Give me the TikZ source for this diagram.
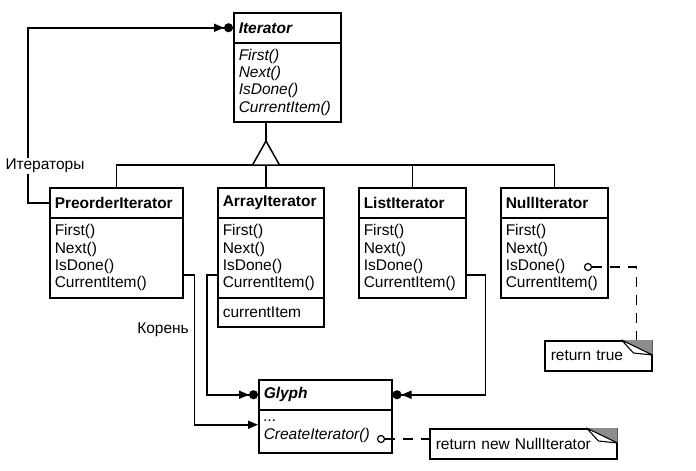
\documentclass[tikz,border=0pt]{standalone}
\usepackage{fontspec}
\setmainfont{Liberation Sans}
\usetikzlibrary{arrows.meta}
\tikzset{>={Triangle[width=8pt,length=10pt]}}
\tikzset{
  wire/.style={line width=1.5pt},
  cls/.style={draw, wire, anchor=north west, inner xsep=5pt, inner ysep=0pt,
    text width=#1, align=left},
  hdr/.style={cls=#1, minimum height=30pt, font=\bfseries},
  ops/.style={cls=#1},
  notebox/.style={draw, wire, anchor=north west, inner xsep=6pt, inner ysep=0pt,
    text width=#1, align=left, minimum height=30pt},
  lbl/.style={inner sep=1pt},
  refarrow/.style={wire, -{Triangle[width=8pt,length=10pt] Circle[length=9pt]}},
  dotopen/.style={circle, draw, line width=1.2pt, fill=white, inner sep=0pt, minimum size=7pt},
  notelink/.style={wire, dash pattern=on 10pt off 8pt}
}
\newcommand\dogear[1]{%
  \fill[black!45] ([xshift=-31pt]#1.north east) -- (#1.north east)
    -- ([yshift=-15pt]#1.north east) -- cycle;
  \filldraw[fill=white, line width=1.1pt, line join=round] ([xshift=-31pt]#1.north east)
    -- ([xshift=-19pt,yshift=-13pt]#1.north east) -- ([yshift=-15pt]#1.north east) -- cycle;
}

\begin{document}
\fontsize{15.5}{17.3}\selectfont
\begin{tikzpicture}[x=1pt,y=-1pt]
\useasboundingbox (0,0) rectangle (696,471);

% classes
\node[hdr=97pt, font=\bfseries\itshape] (it) at (233,12) {Iterator};
\node[ops=97pt, minimum height=79pt, font=\itshape] (itm) at (233,42)
  {First()\\Next()\\IsDone()\\CurrentItem()};

\node[hdr=123pt] (pre) at (49,187) {PreorderIterator};
\node[ops=123pt, minimum height=80pt] (prem) at (49,217)
  {First()\\Next()\\IsDone()\\CurrentItem()};

\node[hdr=96pt] (arr) at (217,187) {ArrayIterator};
\node[ops=96pt, minimum height=80pt] (arrm) at (217,217)
  {First()\\Next()\\IsDone()\\CurrentItem()};
\node[ops=96pt, minimum height=29pt] (arra) at (217,297) {currentItem};

\node[hdr=97pt] (lst) at (358,187) {ListIterator};
\node[ops=97pt, minimum height=80pt] (lstm) at (358,217)
  {First()\\Next()\\IsDone()\\CurrentItem()};

\node[hdr=97pt] (nul) at (500,187) {NullIterator};
\node[ops=97pt, minimum height=80pt] (nulm) at (500,217)
  {First()\\Next()\\IsDone()\\CurrentItem()};

\node[hdr=123pt, font=\bfseries\itshape] (gl) at (258,379) {Glyph};
\node[ops=123pt, minimum height=43pt, font=\itshape] (glm) at (258,409)
  {...\\CreateIterator()};

% notes
\node[notebox=95pt] (nt) at (544,340) {return true};
\dogear{nt}
\node[notebox=175pt] (nn) at (429,428) {return new NullIterator};
\dogear{nn}

% inheritance
\coordinate (tri) at (266,141);
\coordinate (base) at (266,165);
\draw[wire] (itm.south -| tri) -- (tri);
\draw[wire] (pre.north) |- (base) -| (nul.north);
\draw[wire] (base) -- (base |- arr.north);
\draw[wire] (lst.north) -- (lst.north |- base);
\draw[wire, fill=white, line join=miter] (tri) -- ++(-13.5,24) -- ++(27,0) -- cycle;

% references
\draw[refarrow] (pre.west) -- ++(-21,0) |- (it.west);
\node[lbl, fill=white] (itlbl) at (45,166) {Итераторы};

\draw[wire, ->] ([yshift=-17pt]prem.east) -- ++(11,0) |- ([yshift=6.5pt]glm.west);
\node[lbl, anchor=east] (rootlbl) at (190,330) {Корень};

\draw[refarrow] ([yshift=-17pt]arrm.west) -- ++(-10,0) |- (gl.west);
\draw[refarrow] ([yshift=-17pt]lstm.east) -- ++(19,0) |- (gl.east);

% note links
\node[dotopen] (ndot) at (588,267) {};
\draw[notelink] (ndot) -| ([xshift=-16pt]nt.north east);
\node[dotopen] (gdot) at (381,439) {};
\draw[notelink] (gdot) -- (gdot -| nn.west);
\end{tikzpicture}
\end{document}
